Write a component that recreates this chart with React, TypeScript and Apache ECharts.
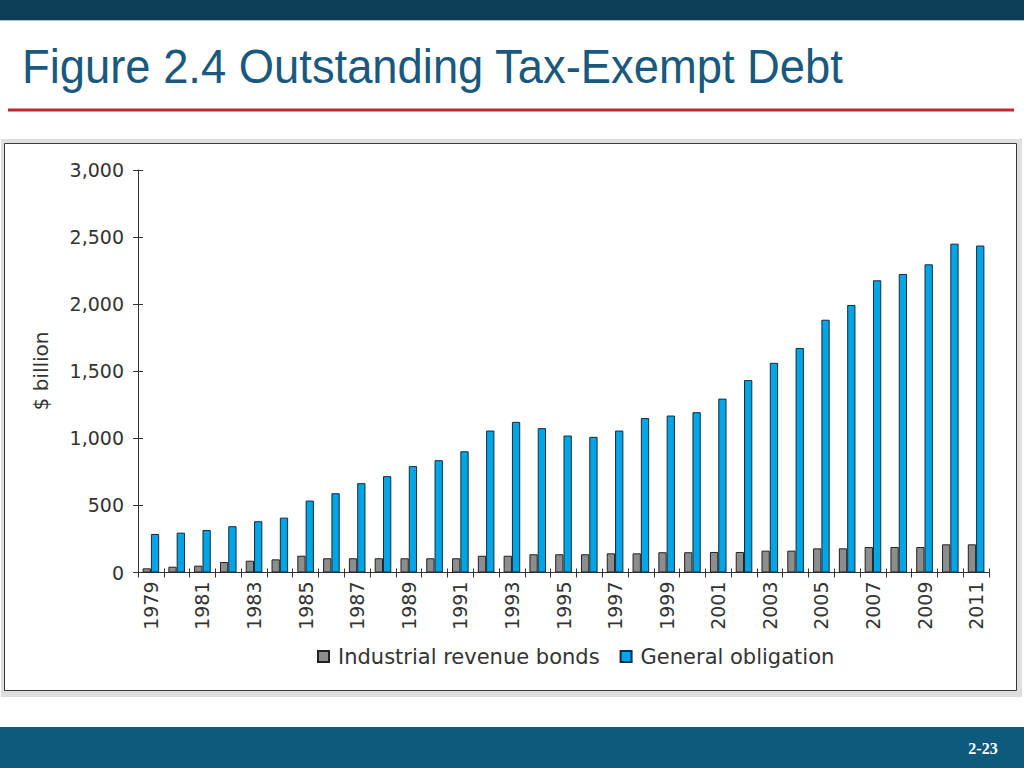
import React, { useEffect, useRef } from "react";
import * as echarts from "echarts";

const years = [
  "1979", "1980", "1981", "1982", "1983", "1984", "1985", "1986", "1987", "1988", "1989",
  "1990", "1991", "1992", "1993", "1994", "1995", "1996", "1997", "1998", "1999", "2000",
  "2001", "2002", "2003", "2004", "2005", "2006", "2007", "2008", "2009", "2010", "2011",
];
const industrialRevenueBonds = [
  31, 43, 51, 78, 88, 98, 125, 106, 106, 106, 106,
  106, 106, 125, 125, 136, 136, 136, 143, 143, 151, 151,
  153, 153, 163, 163, 180, 180, 190, 190, 190, 210, 210,
];
const generalObligation = [
  287, 297, 317, 345, 382, 409, 536, 591, 666, 718, 793,
  837, 904, 1058, 1123, 1076, 1021, 1011, 1058, 1151, 1170, 1195,
  1296, 1434, 1563, 1673, 1884, 1994, 2178, 2225, 2297, 2451, 2437,
];
const seriesNames = ["Industrial revenue bonds", "General obligation"];
const titleText = "Figure 2.4 Outstanding Tax-Exempt Debt";
const yAxisName = "$ billion";
const slideNumber = "2-23";

const FONT = "DejaVu Sans";

export default function App() {
  const ref = useRef<HTMLDivElement>(null);
  useEffect(() => {
    if (!ref.current) return;
    const chart = echarts.init(ref.current, null, { renderer: "svg" });
    chart.setOption({
      animation: false,
      backgroundColor: "#ffffff",
      graphic: [
        { type: "rect", z: -10, shape: { x: 0, y: 0, width: 1024, height: 20 }, style: { fill: "#0b3e57" } },
        { type: "rect", z: -10, shape: { x: 0, y: 20, width: 1024, height: 1 }, style: { fill: "#b8c4cc" } },
        {
          type: "text", x: 22, y: 67, scaleX: 0.945,
          style: { text: titleText, fontFamily: "Liberation Sans", fontSize: 48, fill: "#19597d", textVerticalAlign: "middle", verticalAlign: "middle" },
        },
        { type: "rect", z: -10, shape: { x: 8, y: 108.5, width: 1006, height: 3 }, style: { fill: "#c1272d" } },
        { type: "rect", z: -10, shape: { x: 1, y: 139, width: 1021, height: 558 }, style: { fill: "#dedede" } },
        { type: "rect", z: -9, shape: { x: 4.5, y: 143.5, width: 1012, height: 547 }, style: { fill: "#ffffff", stroke: "#3a3a3a", lineWidth: 1 } },
        {
          type: "text", x: 41, y: 371, rotation: Math.PI / 2,
          style: { text: yAxisName, fontFamily: FONT, fontSize: 20, fill: "#333333", align: "center", verticalAlign: "middle" },
        },
        { type: "rect", z: -10, shape: { x: 0, y: 727, width: 1024, height: 41 }, style: { fill: "#0e5a7d" } },
        {
          type: "text", x: 983, y: 748,
          style: { text: slideNumber, fontFamily: "Liberation Serif", fontWeight: "bold", fontSize: 16, fill: "#ffffff", align: "center", verticalAlign: "middle" },
        },
      ],
      legend: {
        left: 312,
        top: 641,
        itemWidth: 11,
        itemHeight: 11,
        itemGap: 20,
        icon: "rect",
        data: seriesNames,
        textStyle: { fontFamily: FONT, fontSize: 21, color: "#333333", padding: [0, 0, 0, 4] },
      },
      grid: { left: 138, right: 35, top: 170, bottom: 195.5, containLabel: false },
      xAxis: [
        {
          type: "category",
          data: years,
          position: "bottom",
          axisLine: { lineStyle: { color: "#333333", width: 1 } },
          axisTick: { show: true, interval: 0, length: 5, lineStyle: { color: "#333333" } },
          axisLabel: { interval: 1, rotate: 90, margin: 9, fontFamily: FONT, fontSize: 19, color: "#333333" },
        },
        {
          type: "category",
          data: years,
          position: "bottom",
          axisLine: { show: false },
          axisTick: { show: true, inside: true, interval: 0, length: 4, lineStyle: { color: "#333333" } },
          axisLabel: { show: false },
        },
      ],
      yAxis: [
        {
          type: "value",
          min: 0,
          max: 3000,
          interval: 500,
          position: "left",
          splitLine: { show: false },
          axisLine: { show: true, lineStyle: { color: "#333333", width: 1 } },
          axisTick: { show: true, length: 5, lineStyle: { color: "#333333" } },
          axisLabel: {
            margin: 14,
            fontFamily: FONT,
            fontSize: 19,
            color: "#333333",
            formatter: (v: number) => v.toLocaleString("en-US"),
          },
        },
        {
          type: "value",
          min: 0,
          max: 3000,
          interval: 500,
          position: "left",
          splitLine: { show: false },
          axisLine: { show: false },
          axisTick: { show: true, inside: true, length: 5, lineStyle: { color: "#333333" } },
          axisLabel: { show: false },
        },
      ],
      series: [
        {
          name: seriesNames[0],
          type: "bar",
          data: industrialRevenueBonds,
          barWidth: 8.3,
          barGap: "0%",
          itemStyle: { color: "#8d8d8d", borderColor: "#222222", borderWidth: 1 },
        },
        {
          name: seriesNames[1],
          type: "bar",
          data: generalObligation,
          barWidth: 8.3,
          barGap: "0%",
          itemStyle: { color: "#00a5e6", borderColor: "#1a2a3a", borderWidth: 1 },
        },
      ],
    });
    return () => chart.dispose();
  }, []);
  return (
    <div
      ref={ref}
      style={{ position: "fixed", left: 0, top: 0, width: 1024, height: 768 }}
    />
  );
}
